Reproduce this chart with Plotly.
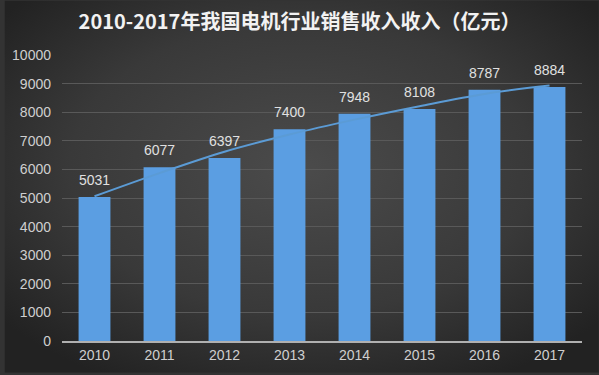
import base64
import plotly.graph_objects as go

years = ["2010", "2011", "2012", "2013", "2014", "2015", "2016", "2017"]
revenue = [5031, 6077, 6397, 7400, 7948, 8108, 8787, 8884]
trend = [5060, 5870, 6620, 7220, 7740, 8210, 8640, 8930]
y_ticks = [0, 1000, 2000, 3000, 4000, 5000, 6000, 7000, 8000, 9000, 10000]
y_tick_text = [str(v) for v in y_ticks]

svg = (
    '<svg xmlns="http://www.w3.org/2000/svg" width="599" height="375">'
    '<defs><radialGradient id="g" cx="50%" cy="45%" r="65%">'
    '<stop offset="0%" stop-color="#4b4b4b"/>'
    '<stop offset="60%" stop-color="#393939"/>'
    '<stop offset="100%" stop-color="#222222"/>'
    '</radialGradient></defs>'
    '<rect width="599" height="375" fill="url(#g)"/></svg>'
)
bg_uri = "data:image/svg+xml;base64," + base64.b64encode(svg.encode()).decode()

W, H = 599, 375
L, R, T, B = 58, 17, 55, 32
pw, ph = W - L - R, H - T - B

fig = go.Figure()
fig.add_trace(go.Bar(
    x=years, y=revenue,
    marker=dict(color="#5b9ee2", line=dict(width=0)),
))
fig.add_trace(go.Scatter(
    x=years, y=trend, mode="lines",
    line=dict(color="#5b9bd5", width=2, shape="spline"),
    hoverinfo="skip",
))

annotations = [
    dict(x=i, y=v, xref="x", yref="y", text=str(v), showarrow=False,
         yanchor="bottom", yshift=7,
         font=dict(family="Liberation Sans, Arial", size=14, color="#e0e0e0"))
    for i, v in enumerate(revenue)
]

fig.update_layout(
    width=W, height=H,
    margin=dict(l=L, r=R, t=T, b=B),
    paper_bgcolor="#333333", plot_bgcolor="rgba(0,0,0,0)",
    showlegend=False,
    bargap=0.51,
    annotations=annotations,
    title=dict(
        text="<b>2010-2017年我国电机行业销售收入收入（亿元）</b>",
        x=0.5, xanchor="center", y=1 - 22 / H, yanchor="middle",
        font=dict(family="Noto Sans CJK SC", size=20, color="#f2f2f2"),
    ),
    images=[dict(source=bg_uri, xref="paper", yref="paper", x=-L / pw, y=1 + T / ph,
                 sizex=W / pw, sizey=H / ph, xanchor="left", yanchor="top",
                 sizing="stretch", layer="below")],
    xaxis=dict(
        type="category", range=[-0.5, len(years) - 0.5],
        showline=True, linecolor="#b0b0b0", linewidth=2,
        showgrid=False, ticks="",
        tickfont=dict(family="Liberation Sans, Arial", size=14, color="#cfcfcf"),
    ),
    yaxis=dict(
        range=[0, 10000], tickvals=y_ticks, ticktext=y_tick_text,
        showgrid=True, gridcolor="#595959", gridwidth=1,
        zeroline=False, showline=False, ticks="",
        ticklabelstandoff=10,
        tickfont=dict(family="Liberation Sans, Arial", size=14, color="#cfcfcf"),
    ),
)

fig.write_html(
    "out.html",
    config={"displayModeBar": False},
    post_script="document.body.style.margin='0';document.body.style.background='#222';",
)
